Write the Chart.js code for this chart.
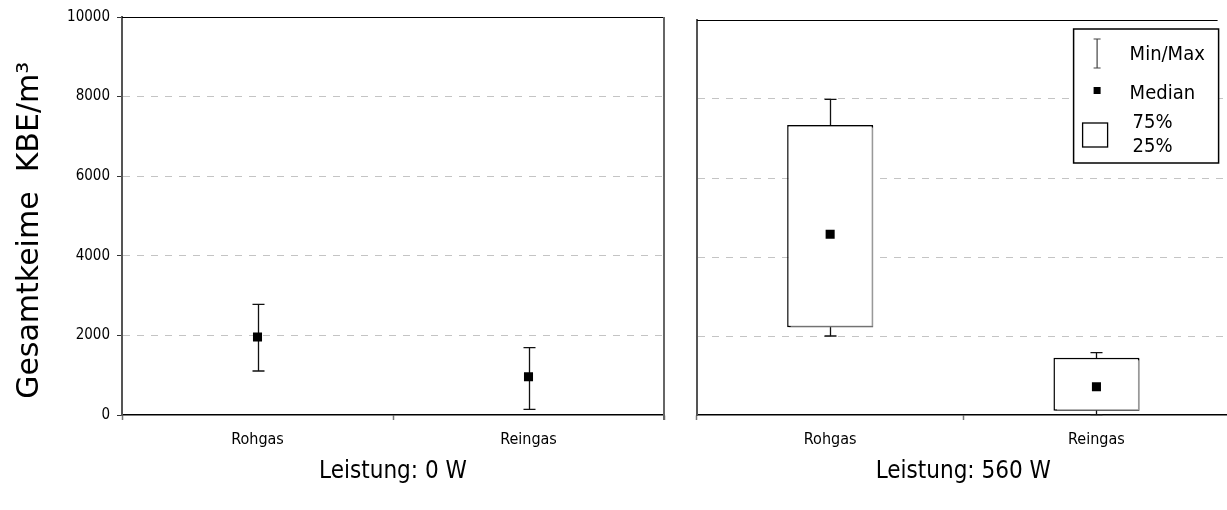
<!DOCTYPE html>
<html>
<head>
<meta charset="utf-8">
<script src="https://cdn.jsdelivr.net/npm/chart.js@4.4.1/dist/chart.umd.min.js"></script>
<style>
  body { margin: 0; background: #fff; overflow: hidden; width: 1227px; height: 510px; position: relative; }
  canvas { position: absolute; top: 0; }
  #c0 { left: 0; }
  #c560 { left: 680px; }
</style>
</head>
<body>
<canvas id="c0" width="680" height="510"></canvas>
<canvas id="c560" width="556" height="510"></canvas>
<script>
// categories and tick labels
var categories = ['Rohgas', 'Reingas']
var yTicks = [0, 2000, 4000, 6000, 8000, 10000]
var panelTitles = ['Leistung: 0 W', 'Leistung: 560 W']
var yTitle = 'Gesamtkeime  KBE/m³   '

// Leistung 0 W (nur Min/Max + Median)
var min0 = [1105, 143]
var max0 = [2781, 1692]
var median0 = [1960, 963]

// Leistung 560 W
var min560 = [2000, 10]
var max560 = [7990, 1578]
var q1_560 = [2220, 110]
var q3_560 = [7340, 1451]
var median560 = [4575, 717]

var narrow = "'DejaVu Sans Condensed', 'DejaVu Sans', sans-serif"
var wide = "'DejaVu Sans', sans-serif"

// whiskers (min/max) drawn through the chart scales
var whiskers = {
    id: 'whiskers',
    beforeDatasetsDraw: function(chart, args, opts) {
        var ctx = chart.ctx, x = chart.scales.x, y = chart.scales.y
        ctx.save()
        ctx.strokeStyle = '#111'
        ctx.lineWidth = 1.3
        opts.min.forEach(function(lo, i) {
            var px = Math.round(x.getPixelForValue(i)) + 0.5
            var yLo = y.getPixelForValue(lo), yHi = y.getPixelForValue(opts.max[i])
            ctx.beginPath()
            ctx.moveTo(px, yLo); ctx.lineTo(px, yHi)
            ctx.moveTo(px - 6, yLo); ctx.lineTo(px + 6, yLo)
            ctx.moveTo(px - 6, yHi); ctx.lineTo(px + 6, yHi)
            ctx.stroke()
        })
        ctx.restore()
    },
    // shadow on the boxes
    beforeDatasetDraw: function(chart, args) {
        if (args.meta.type === 'bar') {
            chart.ctx.save()
            chart.ctx.shadowColor = '#999'
            chart.ctx.shadowOffsetX = 2
            chart.ctx.shadowOffsetY = 1
            chart.ctx.shadowBlur = 0
        }
    },
    afterDatasetDraw: function(chart, args) {
        if (args.meta.type === 'bar') chart.ctx.restore()
    }
}

// top and right border of the plot area
var frame = {
    id: 'frame',
    afterDraw: function(chart, args, opts) {
        var ctx = chart.ctx, a = chart.chartArea
        ctx.save()
        ctx.strokeStyle = '#000'
        ctx.lineWidth = 1.2
        ctx.beginPath()
        ctx.moveTo(a.left, a.top + 0.5); ctx.lineTo(opts.right ? a.right : a.right - 12, a.top + 0.5)
        ctx.stroke()
        if (opts.right) {
            ctx.strokeStyle = '#666'
            ctx.lineWidth = 2
            ctx.beginPath()
            ctx.moveTo(a.right, a.top); ctx.lineTo(a.right, a.bottom + 5)
            ctx.stroke()
        }
        ctx.restore()
    }
}

// legend box in the right panel
var boxLegend = {
    id: 'boxLegend',
    afterDraw: function(chart) {
        var ctx = chart.ctx, a = chart.chartArea
        var L = a.right - 156, T = a.top + 9
        ctx.save()
        ctx.fillStyle = '#fff'
        ctx.fillRect(L, T, 145, 134)
        ctx.strokeStyle = '#000'
        ctx.lineWidth = 1.5
        ctx.strokeRect(L, T, 145, 134)
        // min/max symbol
        ctx.strokeStyle = '#444'
        ctx.lineWidth = 1.2
        ctx.beginPath()
        ctx.moveTo(L + 23.5, T + 10); ctx.lineTo(L + 23.5, T + 39)
        ctx.moveTo(L + 20, T + 10); ctx.lineTo(L + 27, T + 10)
        ctx.moveTo(L + 20, T + 39); ctx.lineTo(L + 27, T + 39)
        ctx.stroke()
        // median symbol
        ctx.fillStyle = '#000'
        ctx.fillRect(L + 20, T + 58, 7, 7)
        // box symbol
        ctx.strokeStyle = '#000'
        ctx.lineWidth = 1.3
        ctx.strokeRect(L + 9, T + 94, 25, 24)
        ctx.font = '20px ' + narrow
        ctx.textBaseline = 'middle'
        ctx.fillText('Min/Max', L + 56, T + 26)
        ctx.fillText('Median', L + 56, T + 65)
        ctx.fillText('75%', L + 59, T + 94)
        ctx.fillText('25%', L + 59, T + 118)
        ctx.restore()
    }
}

function xScale(title) {
    return {
        type: 'category',
        offset: true,
        grid: { offset: true, drawOnChartArea: false, tickLength: 5, tickColor: '#777', tickWidth: 1.5 },
        border: { color: '#000', width: 1.5 },
        ticks: { font: { size: 16, family: narrow }, color: '#000', padding: 10 },
        title: { display: true, text: title, color: '#000', font: { size: 24, family: narrow }, padding: { top: 0, bottom: 24 } },
        afterFit: function(s) { s.height = 95 }
    }
}

function gridColor(c) {
    var v = c.tick.value
    return (v === 0 || v === 10000) ? 'rgba(0,0,0,0)' : '#c4c4c4'
}

var chart0 = new Chart(document.getElementById('c0').getContext('2d'), {
    type: 'bar',
    data: {
        labels: categories,
        datasets: [{
            type: 'line',
            label: 'Median',
            data: median0,
            showLine: false,
            pointStyle: 'rect',
            pointRadius: 6.4,
            pointBackgroundColor: '#000',
            pointBorderWidth: 0
        }]
    },
    options: {
        responsive: false,
        animation: false,
        devicePixelRatio: 1,
        layout: { padding: { top: 17, right: 16, left: 0, bottom: 0 } },
        plugins: {
            legend: { display: false },
            tooltip: { enabled: false },
            whiskers: { min: min0, max: max0 },
            frame: { right: true }
        },
        scales: {
            x: xScale(panelTitles[0]),
            y: {
                min: 0, max: 10000,
                afterBuildTicks: function(s) { s.ticks = yTicks.map(function(v) { return { value: v } }) },
                ticks: { font: { size: 15, family: narrow }, color: '#000', padding: 7,
                         callback: function(v) { return String(v) } },
                grid: { color: gridColor, tickColor: '#333', tickLength: 5, tickWidth: 1 },
                border: { color: '#555', width: 2, dash: [7, 7] },
                title: { display: true, text: yTitle, color: '#000', font: { size: 30, family: wide }, padding: { top: 12, bottom: 0 } },
                afterFit: function(s) { s.width = 122 }
            }
        }
    },
    plugins: [whiskers, frame]
})

var chart560 = new Chart(document.getElementById('c560').getContext('2d'), {
    type: 'bar',
    data: {
        labels: categories,
        datasets: [{
            type: 'line',
            label: 'Median',
            data: median560,
            showLine: false,
            pointStyle: 'rect',
            pointRadius: 6.4,
            pointBackgroundColor: '#000',
            pointBorderWidth: 0
        }, {
            type: 'bar',
            label: '75% / 25%',
            data: q1_560.map(function(v, i) { return [v, q3_560[i]] }),
            backgroundColor: '#fff',
            borderColor: '#000',
            borderWidth: 1.5,
            borderSkipped: false,
            categoryPercentage: 1,
            barPercentage: 0.323
        }]
    },
    options: {
        responsive: false,
        animation: false,
        devicePixelRatio: 1,
        layout: { padding: { top: 20, right: 0, left: 0, bottom: 0 } },
        plugins: {
            legend: { display: false },
            tooltip: { enabled: false },
            whiskers: { min: min560, max: max560 },
            frame: { right: false }
        },
        scales: {
            x: xScale(panelTitles[1]),
            y: {
                min: 0, max: 10000,
                afterBuildTicks: function(s) { s.ticks = yTicks.map(function(v) { return { value: v } }) },
                ticks: { display: false },
                grid: { color: gridColor, drawTicks: false },
                border: { color: '#555', width: 2, dash: [7, 7] },
                afterFit: function(s) { s.width = 17 }
            }
        }
    },
    plugins: [whiskers, frame, boxLegend]
})
</script>
</body>
</html>
